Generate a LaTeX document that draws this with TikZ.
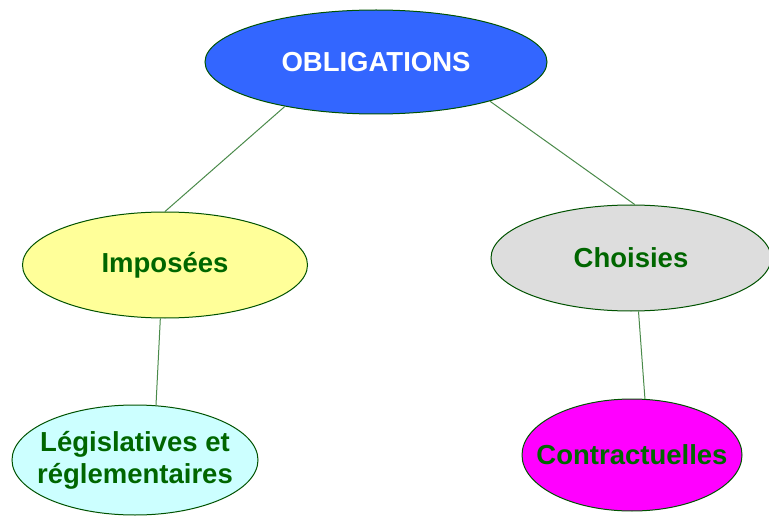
\documentclass[tikz,border=0pt]{standalone}
\usepackage{fontspec}
\setmainfont{Liberation Sans}
\usetikzlibrary{shapes.geometric}
\definecolor{oblblue}{HTML}{3366FF}
\definecolor{impyellow}{HTML}{FFFF99}
\definecolor{choigrey}{HTML}{DDDDDD}
\definecolor{legcyan}{HTML}{CCFFFF}
\definecolor{conmagenta}{HTML}{FF00FF}
\definecolor{txtgreen}{HTML}{006600}
\definecolor{linegreen}{HTML}{4A8A4A}
\begin{document}
\begin{tikzpicture}[x=1pt,y=-1pt,line width=1pt,
  bubble/.style={draw=txtgreen!80!black, ellipse, inner sep=0pt, text=txtgreen,
    font=\fontsize{27.5}{32}\selectfont\bfseries, align=center}]
\useasboundingbox (0,0) rectangle (769,516);
\node (obl) [bubble, fill=oblblue, text=white, minimum width=342pt, minimum height=104pt] at (376,62) {OBLIGATIONS};
\node (imp) [bubble, fill=impyellow, minimum width=285pt, minimum height=106pt] at (165,265) {Imposées};
\node (choi) [bubble, fill=choigrey, minimum width=280pt, minimum height=106pt] at (631,258) {Choisies};
\node (leg) [bubble, fill=legcyan, inner xsep=-30pt, minimum width=246pt, minimum height=110pt] at (135,460) {Législatives et\\réglementaires};
\node (con) [bubble, fill=conmagenta, inner xsep=-30pt, minimum width=220pt, minimum height=112pt] at (632,455) {Contractuelles};
\path[draw=linegreen]
(obl.206) edge (imp.north)
(obl.341) edge (choi.86)
(imp.265) edge (leg.69)
(choi.278) edge (con.77);
\end{tikzpicture}
\end{document}
